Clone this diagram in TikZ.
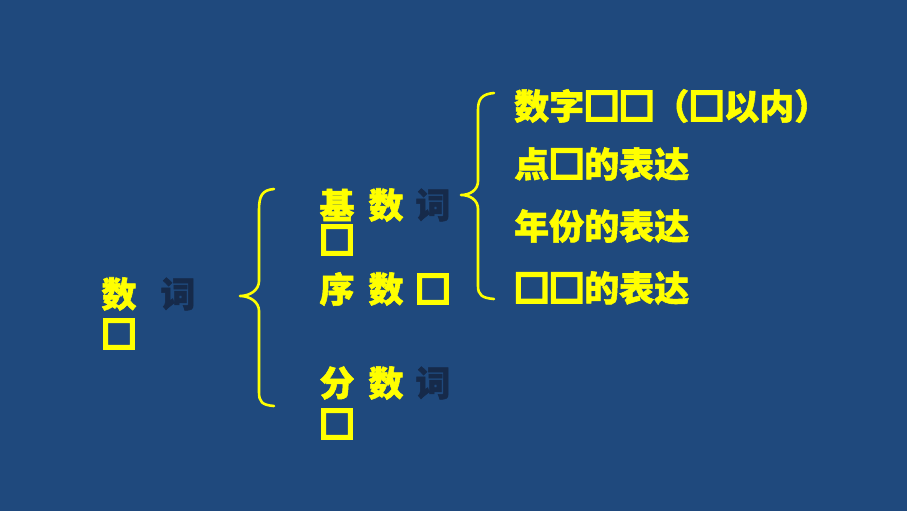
\documentclass[tikz,border=0pt]{standalone}
\usepackage{fontspec}
\newfontfamily\cjk{Noto Sans CJK SC}[BoldFeatures={FakeBold=1.5}]
\newfontfamily\cjkbx{Noto Sans CJK SC}[FakeBold=11]
\definecolor{bg}{RGB}{31,73,125}
\definecolor{ylw}{RGB}{255,255,0}
\definecolor{dim}{RGB}{22,42,74}
\newcommand\bx{{\cjkbx\mdseries □}}
\tikzset{
  txt/.style={inner sep=0pt, font=\cjk\bfseries\fontsize{35}{35}\selectfont},
  yel/.style={txt, text=ylw},
  gry/.style={txt, text=dim},
  brace/.style={draw=ylw, line width=2.6pt, line cap=round, line join=round}
}
\begin{document}
\begin{tikzpicture}[x=1pt,y=-1pt]
\fill[bg] (0,0) rectangle (907,511);
\useasboundingbox (0,0) rectangle (907,511);
% left
\node[yel] (a1) at (119,294) {数};
\node[gry] (a2) at (178,294) {词};
\node[yel] (a3) at (119,334) {\bx};
% middle
\node[yel] (b1) at (337,205) {基};
\node[yel] (b2) at (386,205) {数};
\node[gry] (b3) at (433,205) {词};
\node[yel] (b4) at (337,240) {\bx};
\node[yel] (c1) at (337,289) {序};
\node[yel] (c2) at (386,289) {数};
\node[yel] (c3) at (433,289) {\bx};
\node[yel] (d1) at (337,383) {分};
\node[yel] (d2) at (386,383) {数};
\node[gry] (d3) at (433,383) {词};
\node[yel] (d4) at (337,424) {\bx};
% right
\node[yel,anchor=west] (r1) at (514,106) {数字\bx\bx（\bx 以内）};
\node[yel,anchor=west] (r2) at (514,164) {点\bx 的表达};
\node[yel,anchor=west] (r3) at (514,226) {年份的表达};
\node[yel,anchor=west] (r4) at (514,288) {\bx\bx 的表达};
% braces
\coordinate (L0) at (274,189);
\coordinate (L1) at (240,296);
\coordinate (L2) at (274,406);
\draw[brace] (L0) .. controls (262,190) and (259,196) .. (259,210)
  -- (259,281) .. controls (259,290) and (250,296) .. (L1)
  .. controls (250,296) and (259,302) .. (259,311)
  -- (259,392) .. controls (259,402) and (262,405) .. (L2);
\coordinate (R0) at (494,93);
\coordinate (R1) at (461,195);
\coordinate (R2) at (494,299);
\draw[brace] (R0) .. controls (482,94) and (478,99) .. (478,110)
  -- (478,181) .. controls (478,190) and (470,195) .. (R1)
  .. controls (470,195) and (478,200) .. (478,209)
  -- (478,286) .. controls (478,295) and (482,298) .. (R2);
\end{tikzpicture}
\end{document}
